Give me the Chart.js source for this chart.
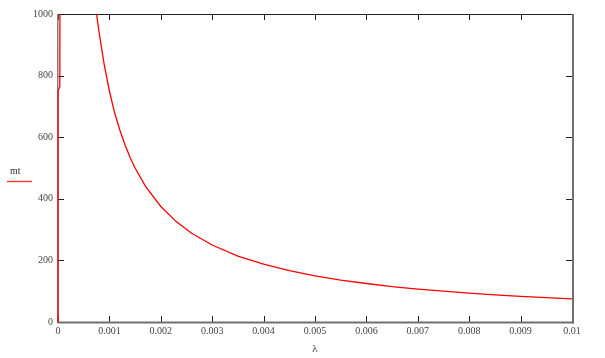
<!DOCTYPE html>
<html>
<head>
<meta charset="utf-8">
<script src="https://cdn.jsdelivr.net/npm/chart.js@4.4.1/dist/chart.umd.min.js"></script>
<style>
html,body{margin:0;padding:0;background:#fff;}
#wrap{width:605px;height:358px;position:relative;}
</style>
</head>
<body>
<div id="wrap"><canvas id="c" width="605" height="358"></canvas></div>
<script>
// Data
const lambdaValues = [0, 0.000002, 0.000035, 0.00004, 0.0002, 0.0004, 0.0006, 0.0007, 0.00075, 0.0008, 0.0009, 0.001, 0.0011, 0.0012, 0.0013, 0.0014, 0.0015, 0.0017, 0.002, 0.0023, 0.0026, 0.003, 0.0035, 0.004, 0.0045, 0.005, 0.0055, 0.006, 0.0065, 0.007, 0.0075, 0.008, 0.0085, 0.009, 0.0095, 0.01];
const mtValues     = [0, 750, 765, 1200, 3750, 1875, 1250, 1071, 1000, 940, 835, 750, 680, 625, 577, 535, 500, 441, 375, 326, 288, 250, 214, 188, 167, 150, 136, 125, 115, 107, 100, 94, 88, 83, 79, 75];
const xTickValues = [0, 0.001, 0.002, 0.003, 0.004, 0.005, 0.006, 0.007, 0.008, 0.009, 0.01];
const xTickLabels = ["0", "0.001", "0.002", "0.003", "0.004", "0.005", "0.006", "0.007", "0.008", "0.009", "0.01"];
const yTickValues = [0, 200, 400, 600, 800, 1000];
const yTickLabels = ["0", "200", "400", "600", "800", "1000"];
const seriesName = "mt";
const xAxisTitle = "λ";

const points = lambdaValues.map((x, i) => ({x: x, y: mtValues[i]}));

const framePlugin = {
  id: 'frame',
  beforeDatasetsDraw(chart) {
    const ctx = chart.ctx;
    const a = chart.chartArea;
    const xs = chart.scales.x, ys = chart.scales.y;
    ctx.save();
    // ticks (inward, mirrored)
    ctx.strokeStyle = '#222';
    ctx.lineWidth = 1;
    const tl = 6;
    xTickValues.forEach(v => {
      const px = Math.round(xs.getPixelForValue(v)) + 0.5;
      ctx.beginPath(); ctx.moveTo(px, a.bottom); ctx.lineTo(px, a.bottom - tl); ctx.stroke();
      ctx.beginPath(); ctx.moveTo(px, a.top); ctx.lineTo(px, a.top + tl); ctx.stroke();
    });
    yTickValues.forEach(v => {
      const py = Math.round(ys.getPixelForValue(v)) + 0.5;
      ctx.beginPath(); ctx.moveTo(a.left, py); ctx.lineTo(a.left + tl, py); ctx.stroke();
      ctx.beginPath(); ctx.moveTo(a.right, py); ctx.lineTo(a.right - tl, py); ctx.stroke();
    });
    // top: dark thin
    ctx.strokeStyle = '#222';
    ctx.lineWidth = 1;
    ctx.beginPath(); ctx.moveTo(a.left - 1, a.top + 0.5); ctx.lineTo(a.right, a.top + 0.5); ctx.stroke();
    // left: grey
    ctx.strokeStyle = '#808080';
    ctx.lineWidth = 1.5;
    ctx.beginPath(); ctx.moveTo(a.left - 0.25, a.top); ctx.lineTo(a.left - 0.25, a.bottom); ctx.stroke();
    // bottom & right: grey thicker
    ctx.strokeStyle = '#707070';
    ctx.lineWidth = 2;
    ctx.beginPath(); ctx.moveTo(a.left - 1, a.bottom + 0.5); ctx.lineTo(a.right + 2, a.bottom + 0.5); ctx.stroke();
    ctx.beginPath(); ctx.moveTo(a.right + 1, a.top); ctx.lineTo(a.right + 1, a.bottom + 1.5); ctx.stroke();
    ctx.restore();
  },
  afterDraw(chart) {
    const ctx = chart.ctx;
    ctx.save();
    ctx.font = '10px "Liberation Serif"';
    ctx.fillStyle = '#333';
    ctx.textBaseline = 'middle';
    ctx.textAlign = 'left';
    ctx.fillText(seriesName, 10, 171);
    ctx.strokeStyle = '#ff4040';
    ctx.lineWidth = 1.5;
    ctx.beginPath(); ctx.moveTo(7, 181.5); ctx.lineTo(32, 181.5); ctx.stroke();
    ctx.restore();
  }
};

new Chart(document.getElementById('c'), {
  type: 'line',
  data: {
    datasets: [{
      label: seriesName,
      data: points,
      borderColor: '#ff0000',
      borderWidth: 1.3,
      pointRadius: 0,
      tension: 0,
      fill: false,
      clip: {left: 2, top: 0, right: 0, bottom: 0}
    }]
  },
  options: {
    responsive: false,
    animation: false,
    devicePixelRatio: 1,
    layout: {padding: {top: 14, right: 33, left: 0, bottom: 0}},
    plugins: {legend: {display: false}, tooltip: {enabled: false}},
    scales: {
      x: {
        type: 'linear', min: 0, max: 0.01,
        border: {display: false},
        grid: {display: false, drawTicks: false},
        afterBuildTicks(s) { s.ticks = xTickValues.map(v => ({value: v})); },
        afterFit(s) { s.height = 36; },
        ticks: {
          padding: 3,
          color: '#444',
          font: {family: '"Liberation Serif"', size: 10},
          maxRotation: 0,
          autoSkip: false,
          callback(v, i) { return xTickLabels[i]; }
        },
        title: {display: true, text: xAxisTitle, color: '#444', padding: {top: 2, bottom: 2},
          font: {family: '"Liberation Serif"', size: 11}}
      },
      y: {
        type: 'linear', min: 0, max: 1000,
        border: {display: false},
        grid: {display: false, drawTicks: false},
        afterBuildTicks(s) { s.ticks = yTickValues.map(v => ({value: v})); },
        afterFit(s) { s.width = 58; },
        ticks: {
          padding: 5,
          color: '#444',
          font: {family: '"Liberation Serif"', size: 10},
          autoSkip: false,
          callback(v, i) { return yTickLabels[i]; }
        }
      }
    }
  },
  plugins: [framePlugin]
});
</script>
</body>
</html>
